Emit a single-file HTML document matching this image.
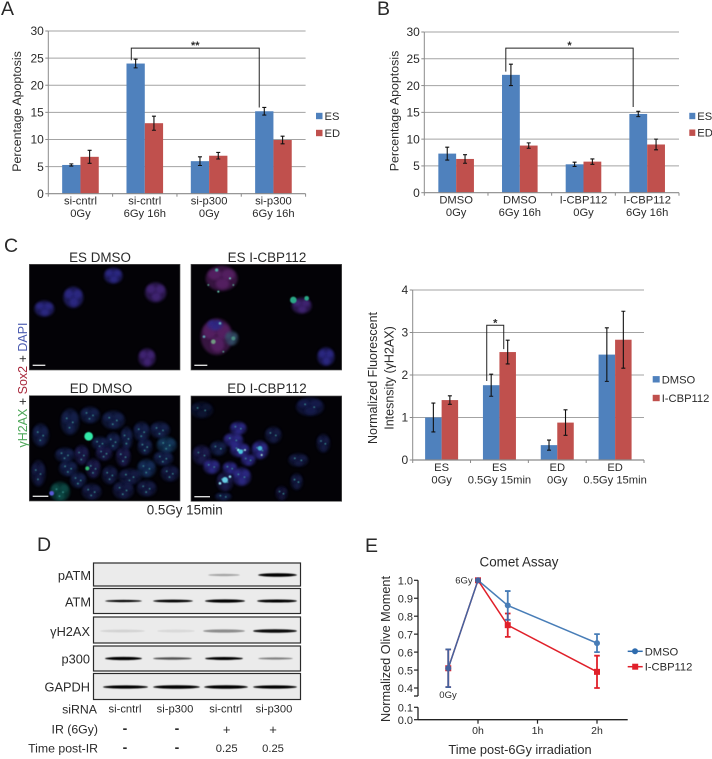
<!DOCTYPE html>
<html lang="en">
<head>
<meta charset="utf-8">
<title>Apoptosis and DNA damage figure</title>
<style>
html,body{margin:0;padding:0;background:#fff;}
svg{display:block;}
text{font-family:"Liberation Sans",sans-serif;fill:#2a2a2a;}
</style>
</head>
<body>
<svg id="fig" xmlns="http://www.w3.org/2000/svg" width="712" height="759" viewBox="0 0 712 759">
<defs>
<filter id="b1" x="-50%" y="-50%" width="200%" height="200%"><feGaussianBlur stdDeviation="4"/></filter>
<filter id="b2" x="-100%" y="-100%" width="300%" height="300%"><feGaussianBlur stdDeviation="1.3"/></filter>
<filter id="bb" x="-10%" y="-200%" width="120%" height="500%"><feGaussianBlur stdDeviation="0.45"/></filter>
</defs>
<rect width="712" height="759" fill="#fff"/>

<g font-size="19.5" fill="#111">
<text x="1" y="15">A</text>
<text x="377" y="15">B</text>
<text x="4" y="252">C</text>
<text x="37" y="551">D</text>
<text x="365" y="552">E</text>
</g>

<g id="chartA"></g>
<g id="chartB"></g>
<g id="chartC"></g>

<g id="micro"></g>
<g font-size="13.4" text-anchor="middle">
<text x="100" y="262">ES DMSO</text>
<text x="267" y="262">ES I-CBP112</text>
<text x="101" y="393">ED DMSO</text>
<text x="267" y="393">ED I-CBP112</text>
<text x="184.7" y="514.5">0.5Gy 15min</text>
</g>
<text transform="translate(27,385) rotate(-90)" font-size="12.5" text-anchor="middle"><tspan style="fill:#4fa85a">γH2AX</tspan> + <tspan style="fill:#a8283c">Sox2</tspan> + <tspan style="fill:#4c5cb0">DAPI</tspan></text>

<g id="blots"></g>
<g font-size="12.8" text-anchor="end">
<text x="91" y="580">pATM</text>
<text x="91" y="606.5">ATM</text>
<text x="90" y="636">γH2AX</text>
<text x="90" y="663.5">p300</text>
<text x="90" y="691.5">GAPDH</text>
</g>
<g font-size="12.3" text-anchor="end">
<text x="97" y="713.5">siRNA</text>
<text x="98" y="733.5">IR (6Gy)</text>
<text x="98" y="752.5">Time post-IR</text>
</g>
<g font-size="11.2" text-anchor="middle">
<text x="125" y="712.5">si-cntrl</text>
<text x="175" y="712.5">si-p300</text>
<text x="225.7" y="712.5">si-cntrl</text>
<text x="274" y="712.5">si-p300</text>
<text x="125" y="733" font-size="14" font-weight="bold">-</text>
<text x="177" y="733" font-size="14" font-weight="bold">-</text>
<text x="226.7" y="734" font-size="13">+</text>
<text x="273" y="734" font-size="13">+</text>
<text x="125" y="752" font-size="14" font-weight="bold">-</text>
<text x="177" y="752" font-size="14" font-weight="bold">-</text>
<text x="226.7" y="752">0.25</text>
<text x="273" y="752">0.25</text>
</g>

<g id="chartE"></g>

<script>
/* ---------- Chart data ---------- */
const aCategories = [["si-cntrl","0Gy"],["si-cntrl","6Gy 16h"],["si-p300","0Gy"],["si-p300","6Gy 16h"]];
const aES = [5.3, 24, 6, 15.2];
const aED = [6.8, 13, 7, 9.9];
const aESErr = [0.2, 0.8, 0.8, 0.7];
const aEDErr = [1.2, 1.3, 0.6, 0.7];
const aTicks = [0, 5, 10, 15, 20, 25, 30];

const bCategories = [["DMSO","0Gy"],["DMSO","6Gy 16h"],["I-CBP112","0Gy"],["I-CBP112","6Gy 16h"]];
const bES = [7.3, 22, 5.3, 14.7];
const bED = [6.3, 8.8, 5.8, 9];
const bESErr = [1.2, 2, 0.4, 0.5];
const bEDErr = [0.8, 0.5, 0.5, 1];
const bTicks = [0, 5, 10, 15, 20, 25, 30];

const cCategories = [["ES","0Gy"],["ES","0.5Gy 15min"],["ED","0Gy"],["ED","0.5Gy 15min"]];
const cDMSO = [1, 1.76, 0.35, 2.48];
const cICBP = [1.41, 2.54, 0.88, 2.83];
const cDMSOErr = [0.34, 0.26, 0.12, 0.63];
const cICBPErr = [0.1, 0.28, 0.3, 0.67];
const cTicks = [0, 1, 2, 3, 4];

const eTimes = [-0.5, 0, 0.5, 2];
const eDMSO = [0.51, 1, 0.86, 0.65];
const eICBP = [0.51, 1, 0.75, 0.49];
const eDMSOErr = [0.105, 0, 0.08, 0.05];
const eICBPErr = [0.105, 0, 0.065, 0.09];
const eTicksUpper = [0.4, 0.5, 0.6, 0.7, 0.8, 0.9, 1.0];
const eTicksLower = [0, 0.1];
const eXTicks = [0, 1, 2];

/* ---------- helpers ---------- */
const NS = "http://www.w3.org/2000/svg";
function mk(tag, attrs, parent, txt) {
  const e = document.createElementNS(NS, tag);
  for (const k in attrs) e.setAttribute(k, attrs[k]);
  if (txt !== undefined) e.textContent = txt;
  parent.appendChild(e);
  return e;
}
const BLUE = "#4f81bd", RED = "#c0504d", GRID = "#a3a3a3", AXIS = "#8a8a8a";

function barChart(root, g, d) {
  const x0 = g.left, step = (g.right - g.left) / d.cats.length;
  const y = v => g.base - (v / g.max) * (g.base - g.top);
  const center = i => x0 + (i + 0.5) * step;

  d.ticks.forEach(t => {
    if (t > 0) {
      const gl = mk("line", {x1:x0, x2:g.right, y1:y(t), y2:y(t), stroke:GRID, "stroke-width":1}, root);
      
      
    }
    const tk = mk("line", {x1:x0-3, x2:x0, y1:y(t), y2:y(t), stroke:AXIS, "stroke-width":1}, root);
    
    
    const lb = mk("text", {x:x0-4.5, y:y(t)+4.2, "font-size":12, "text-anchor":"end"}, root, String(t));
    
    
  });

  [[d.s1, d.e1, BLUE, -1], [d.s2, d.e2, RED, 0]].forEach(([vals, errs, col, off], si) => {
    vals.forEach((v, i) => {
      const bx = center(i) + off * g.bar;
      const r = mk("rect", {x:bx, y:y(v), width:g.bar, height:g.base - y(v), fill:col}, root);
      
      
    });
  });
  [[d.s1, d.e1, -1], [d.s2, d.e2, 0]].forEach(([vals, errs, off]) => {
    vals.forEach((v, i) => {
      const cx = center(i) + off * g.bar + g.bar / 2;
      const p = `M${cx-2} ${y(v+errs[i])}H${cx+2}M${cx} ${y(v+errs[i])}V${y(v-errs[i])}M${cx-2} ${y(v-errs[i])}H${cx+2}`;
      const er = mk("path", {d:p, stroke:"#111", "stroke-width":1.1, fill:"none"}, root);
      
      
    });
  });

  const ax = mk("line", {x1:x0, x2:x0, y1:g.top, y2:g.base, stroke:AXIS, "stroke-width":1}, root);
  
  
  const xa = mk("line", {x1:x0, x2:g.right, y1:g.base, y2:g.base, stroke:AXIS, "stroke-width":1.2}, root);
  
  
  for (let i = 0; i <= d.cats.length; i++) {
    const t = mk("line", {x1:x0+i*step, x2:x0+i*step, y1:g.base, y2:g.base+3, stroke:AXIS, "stroke-width":1}, root);
    
    
  }
  d.cats.forEach((c, i) => {
    c.forEach((line, j) => {
      const t = mk("text", {x:center(i), y:g.base + 11 + j * 12.4, "font-size":11.2, "text-anchor":"middle"}, root, line);
      
      
    });
  });

  g.yTitle.forEach((line, j) => {
    const t = mk("text", {transform:`translate(${g.titleX + j*16.5},${g.titleY}) rotate(-90)`, "font-size":g.titleSize, "text-anchor":"middle"}, root, line);
    
    
  });

  d.legend.forEach((name, i) => {
    const ly = g.legY[i];
    const s = mk("rect", {x:g.legX, y:ly-3.2, width:g.legS, height:6.4, fill:i ? RED : BLUE}, root);
    
    
    const t = mk("text", {x:g.legX+g.legS+2, y:ly+4, "font-size":11.2}, root, name);
    
    
  });

  const b = g.bracket;
  const lx = center(b.from) + b.dxFrom, rx = center(b.to) + b.dxTo;
  const br = mk("path", {d:`M${lx} ${y(b.leftEnd)}V${y(b.top)}H${rx}V${y(b.rightEnd)}`, fill:"none", stroke:"#222", "stroke-width":1}, root);
  
  
  const st = mk("text", {x:(lx+rx)/2, y:y(b.top)+1, "font-size":11, "font-weight":"bold", "text-anchor":"middle"}, root, b.star);
  
  
}

barChart(document.getElementById("chartA"),
  {left:48.3, right:305.6, top:31, base:193.7, max:30, bar:18.3, yTitle:["Percentage Apoptosis"], titleX:21, titleY:111.5, titleSize:12.4,
   legX:316, legS:6.5, legY:[116,133], bracket:{from:1,to:3,dxFrom:-13.5,dxTo:-14.2,top:26.85,leftEnd:24.6,rightEnd:15.9,star:"**"}},
  {cats:aCategories, s1:aES, s2:aED, e1:aESErr, e2:aEDErr, ticks:aTicks, legend:["ES","ED"]});

barChart(document.getElementById("chartB"),
  {left:424.3, right:679, top:32, base:192.7, max:30, bar:17.8, yTitle:["Percentage Apoptosis"], titleX:398.5, titleY:111, titleSize:12.4,
   legX:689.3, legS:6, legY:[116,132.7], bracket:{from:1,to:3,dxFrom:-14,dxTo:-14,top:27,leftEnd:22.6,rightEnd:16,star:"*"}},
  {cats:bCategories, s1:bES, s2:bED, e1:bESErr, e2:bEDErr, ticks:bTicks, legend:["ES","ED"]});

barChart(document.getElementById("chartC"),
  {left:412.7, right:644, top:290, base:460, max:4, bar:16.5, yTitle:["Normalized Fluorescent","Intesnsity (γH2AX)"], titleX:377, titleY:378, titleSize:12.5,
   legX:652.7, legS:7, legY:[379.3,398], bracket:{from:1,to:1,dxFrom:-12.7,dxTo:4.3,top:3.17,leftEnd:1.86,rightEnd:2.61,star:"*"}},
  {cats:cCategories, s1:cDMSO, s2:cICBP, e1:cDMSOErr, e2:cICBPErr, ticks:cTicks, legend:["DMSO","I-CBP112"]});

/* ---------- Chart E: comet assay ---------- */
(function () {
  const root = document.getElementById("chartE");
  const ex = t => 478 + t * 59.5;
  const ey = v => v >= 0.3 ? 580.3 + (1 - v) * 179.5 : 719.7 - v * 124;
  const BL = "#2f6cae", RD = "#e0202a", AX = "#222";

  const t1 = mk("text", {x:519, y:566.5, "font-size":13.4, "text-anchor":"middle"}, root, "Comet Assay");
  
  

  const up = mk("line", {x1:418, x2:418, y1:ey(1), y2:696, stroke:AX, "stroke-width":1.3}, root);
  
  
  const lo = mk("line", {x1:418, x2:418, y1:707.3, y2:ey(0), stroke:AX, "stroke-width":1.3}, root);
  
  
  const xa = mk("line", {x1:418, x2:627.7, y1:ey(0), y2:ey(0), stroke:AX, "stroke-width":1.3}, root);
  
  
  const capTick = mk("line", {x1:414, x2:418, y1:696, y2:696, stroke:AX, "stroke-width":1.3}, root);
  
  

  eTicksUpper.concat(eTicksLower).forEach(v => {
    const tk = mk("line", {x1:414, x2:418, y1:ey(v), y2:ey(v), stroke:AX, "stroke-width":1.2}, root);
    
    
    const lb = mk("text", {x:413, y:ey(v)+4.2, "font-size":11, "text-anchor":"end"}, root, v.toFixed(1));
    
    
  });
  eXTicks.forEach(t => {
    const tk = mk("line", {x1:ex(t), x2:ex(t), y1:ey(0), y2:ey(0)+4, stroke:AX, "stroke-width":1.2}, root);
    
    
    const lb = mk("text", {x:ex(t), y:734, "font-size":10.5, "text-anchor":"middle"}, root, t + "h");
    
    
  });

  function series(vals, errs, col, square, op, nm) {
    const g = mk("g", {opacity:op}, root);
    
    
    const pts = vals.map((v, i) => ex(eTimes[i]) + "," + ey(v)).join(" ");
    const pl = mk("polyline", {points:pts, fill:"none", stroke:col, "stroke-width":1.5}, g);
    
    
    vals.forEach((v, i) => {
      const cx = ex(eTimes[i]);
      if (errs[i] > 0) {
        const p = `M${cx-2.8} ${ey(v+errs[i])}H${cx+2.8}M${cx} ${ey(v+errs[i])}V${ey(v-errs[i])}M${cx-2.8} ${ey(v-errs[i])}H${cx+2.8}`;
        const e = mk("path", {d:p, fill:"none", stroke:col, "stroke-width":1.8}, g);
        
        
      }
      const m = square
        ? mk("rect", {x:cx-3, y:ey(v)-3, width:6, height:6, fill:col}, g)
        : mk("circle", {cx:cx, cy:ey(v), r:3, fill:col}, g);
      
      
    });
  }
  series(eICBP, eICBPErr, RD, true, 1, "series-icbp112");
  series(eDMSO, eDMSOErr, BL, false, 0.88, "series-dmso");

  const a6 = mk("text", {x:472.7, y:583.5, "font-size":9.5, "text-anchor":"end"}, root, "6Gy");
  
  
  const a0 = mk("text", {x:448, y:698, "font-size":9.5, "text-anchor":"middle"}, root, "0Gy");
  
  

  const yt = mk("text", {transform:"translate(390,649) rotate(-90)", "font-size":12.7, "text-anchor":"middle"}, root, "Normalized Olive Moment");
  
  
  const xt = mk("text", {x:520, y:753.8, "font-size":12.8, "text-anchor":"middle"}, root, "Time post-6Gy irradiation");
  
  

  const l1 = mk("line", {x1:627.7, x2:642.7, y1:651.3, y2:651.3, stroke:BL, "stroke-width":1.5}, root);
  
  
  const m1 = mk("circle", {cx:635, cy:651.3, r:3, fill:BL}, root);
  
  
  const tx1 = mk("text", {x:644.7, y:655.3, "font-size":11.2}, root, "DMSO");
  
  
  const l2 = mk("line", {x1:627.7, x2:642.7, y1:666.7, y2:666.7, stroke:RD, "stroke-width":1.5}, root);
  
  
  const m2 = mk("rect", {x:632.2, y:663.7, width:6, height:6, fill:RD}, root);
  
  
  const tx2 = mk("text", {x:644.7, y:670.7, "font-size":11.2}, root, "I-CBP112");
  
  
})();

/* ---------- Micrographs (drawn at 3x then scaled) ---------- */
(function () {
  const root = document.getElementById("micro");
  const P = "#44257a", D = "#182050", V = "#5a2468", B = "#2f2a8a", T = "#161c46", U = "#1f1b50";
  const panels = [
    {name:"micrograph-es-dmso", x:88, y:88, w:452, h:317, bar:[98,136], dots:0,
     cells:[[340,122,28,24,B],[467,172,32,30,P],[220,187,30,32,B],[133,221,30,24,B],[441,368,26,28,P]],
     specks:[]},
    {name:"micrograph-es-icbp112", x:573, y:88, w:452, h:317, bar:[583,622], dots:0,
     cells:[[665,130,48,38,V],[905,212,30,24,P],[650,305,48,55,V],[695,310,20,22,"#34506a"],[978,365,26,28,B],[645,270,24,16,B]],
     specks:[[880,195,10,"#2ba886"],[920,190,7,"#2ba886"],[655,170,3,"#70e0c0"],[640,320,7,"#709a80"],[700,310,6,"#488a80"],[650,105,5,"#50a8a0"],[690,130,3,"#70e0c0"],[660,265,4,"#60a8b8"],[612,305,4,"#60a8b8"],[625,150,2.5,"#60c0a0"],[700,150,2.5,"#60c0a0"],[670,350,2.5,"#60c0a0"]]},
    {name:"micrograph-ed-dmso", x:88, y:482, w:452, h:316, bar:[98,145], dots:3,
     cells:[[210,560,28,40,D],[270,540,30,25,D],[340,555,35,28,D],[122,600,25,35,D],[425,590,25,30,D],[480,585,30,25,D],[500,630,30,25,"#163a60"],[380,610,18,35,D],[340,620,22,28,D],[300,625,25,20,D],[195,660,30,22,D],[245,660,22,30,U],[312,655,25,22,U],[370,665,22,30,U],[435,635,22,25,D],[490,670,30,22,D],[115,715,22,40,T],[205,700,28,24,D],[280,700,22,30,U],[235,735,24,24,D],[330,720,24,28,T],[390,725,35,25,T],[440,700,28,28,"#172f5c"],[510,715,28,25,T],[180,770,30,30,"#0f4e48"],[275,770,30,25,T],[370,765,32,28,T],[440,760,30,25,T]],
     specks:[[266,604,13,"#30e8a8"],[262,700,6,"#30c070"],[155,775,7,"#5a5ad8"]]},
    {name:"micrograph-ed-icbp112", x:573, y:483, w:452, h:316, bar:[583,630], dots:2,
     cells:[[605,525,35,25,"#101236"],[930,515,42,28,"#161f50"],[715,580,25,20,B],[700,615,30,22,B],[820,600,25,25,T],[605,660,28,30,U],[655,640,25,22,D],[720,645,30,22,B],[780,645,25,28,B],[745,675,22,18,B],[635,695,25,22,B],[690,700,22,20,B],[725,725,28,28,B],[895,675,30,20,T],[970,625,20,28,T],[890,740,18,25,T],[675,740,25,30,U],[845,775,18,22,"#12153e"],[670,785,25,12,D]],
     specks:[[715,645,4,"#90f0f0"],[735,645,3,"#b0f0f0"],[722,650,7,"#4bc4dc"],[780,640,7,"#48b4d4"],[785,660,3,"#b0f0d0"],[675,735,9,"#66cce4"],[660,745,4,"#90e0f0"],[690,725,4,"#90e0f0"]]}
  ];
  const lobes = [[-0.42,-0.3],[0.4,-0.28],[0.05,0.42]];
  const dotsAt = [[-0.35,-0.25],[0.3,0.05],[-0.05,0.45]];
  const scale = mk("g", {transform:"translate(0,235) scale(0.33333)"}, root);
  
  
  const defs = document.querySelector("defs");
  panels.forEach((p, i) => {
    const cp = mk("clipPath", {id:"clip" + i}, defs);
    mk("rect", {x:p.x, y:p.y, width:p.w, height:p.h}, cp);
    const bg = mk("rect", {x:p.x, y:p.y, width:p.w, height:p.h, fill:"#030206", stroke:"#555", "stroke-width":2}, scale);
    
    
    const g = mk("g", {"clip-path":"url(#clip" + i + ")"}, scale);
    
    
    p.cells.forEach(c => {
      const e = mk("ellipse", {cx:c[0], cy:c[1], rx:c[2], ry:c[3], fill:c[4], opacity:0.6, filter:"url(#b1)"}, g);
      
      
      lobes.forEach(l => {
        const lb = mk("ellipse", {cx:c[0]+l[0]*c[2], cy:c[1]+l[1]*c[3], rx:c[2]*0.42, ry:c[3]*0.42, fill:c[4], opacity:0.8, filter:"url(#b1)"}, g);
        
        
      });
      for (let k = 0; k < p.dots; k++) {
        const dt = mk("circle", {cx:c[0]+dotsAt[k][0]*c[2], cy:c[1]+dotsAt[k][1]*c[3], r:2.4, fill:"#3f9c98", filter:"url(#b2)"}, g);
        
        
      }
    });
    p.specks.forEach(s => {
      const e = mk("circle", {cx:s[0], cy:s[1], r:s[2], fill:s[3], filter:"url(#b2)"}, g);
      
      
    });
    const sb = mk("line", {x1:p.bar[0], x2:p.bar[1], y1:p.y + p.h - 14, y2:p.y + p.h - 14, stroke:"#ddd", "stroke-width":4}, g);
    
    
  });
})();

/* ---------- Western blots ---------- */
(function () {
  const root = document.getElementById("blots");
  const strips = [
    {name:"blot-patm", y:563, h:23, c:575, bands:[[208,240,1.4,0.3],[258,297,2.6,1]]},
    {name:"blot-atm", y:588.5, h:25, c:601, bands:[[105,142,1.4,1],[153,193,1.9,1],[205,245,2.5,1],[257,297,2.3,1]]},
    {name:"blot-h2ax", y:617, h:26, c:631, bands:[[100,145,2,0.1],[157,195,2,0.08],[203,245,2.4,0.4],[253,297,2.8,0.95]]},
    {name:"blot-p300", y:646, h:25, c:658.5, bands:[[105,142,2.5,1],[153,192,1.6,0.65],[205,243,2.2,1],[258,293,1.4,0.45]]},
    {name:"blot-gapdh", y:673.5, h:26, c:687, bands:[[103,148,2.5,1],[153,200,2.6,1],[204,248,2.6,1],[253,297,2.4,1]]}
  ];
  strips.forEach(s => {
    const r = mk("rect", {x:93.5, y:s.y, width:207, height:s.h, fill:"#ebebeb", stroke:"#2a2a2a", "stroke-width":1.2}, root);
    
    
    s.bands.forEach(b => {
      const e = mk("ellipse", {cx:(b[0]+b[1])/2, cy:s.c, rx:(b[1]-b[0])/2, ry:b[2]/2+0.4, fill:"#050505", opacity:b[3], filter:"url(#bb)"}, root);
      
      
    });
  });
})();
</script>
</svg>
</body>
</html>
